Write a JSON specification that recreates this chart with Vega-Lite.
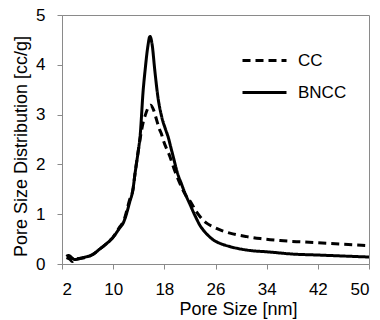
{
  "$schema": "https://vega.github.io/schema/vega-lite/v6.json",
  "width": 307,
  "height": 249,
  "autosize": "none",
  "padding": {"left": 62, "top": 15, "right": 11, "bottom": 56},
  "background": "white",
  "config": {
    "font": "Liberation Sans",
    "view": {"stroke": "#8a8a8a", "strokeWidth": 1},
    "axis": {"grid": false, "domainColor": "#8a8a8a", "tickColor": "#8a8a8a", "labelColor": "black", "titleColor": "black", "labelFont": "Liberation Sans", "titleFont": "Liberation Sans", "labelFontSize": 17, "titleFontSize": 18, "titleFontWeight": "normal"}
  },
  "data": {
    "values": [
      {"s": "BNCC", "x": 2.7, "y": 0.15},
      {"s": "BNCC", "x": 3.0, "y": 0.17},
      {"s": "BNCC", "x": 4.0, "y": 0.09},
      {"s": "BNCC", "x": 5.3, "y": 0.13},
      {"s": "BNCC", "x": 6.8, "y": 0.19},
      {"s": "BNCC", "x": 7.9, "y": 0.3},
      {"s": "BNCC", "x": 8.5, "y": 0.36},
      {"s": "BNCC", "x": 9.5, "y": 0.47},
      {"s": "BNCC", "x": 10.0, "y": 0.54},
      {"s": "BNCC", "x": 11.0, "y": 0.72},
      {"s": "BNCC", "x": 11.6, "y": 0.83},
      {"s": "BNCC", "x": 12.6, "y": 1.25},
      {"s": "BNCC", "x": 13.1, "y": 1.5},
      {"s": "BNCC", "x": 13.4, "y": 1.8},
      {"s": "BNCC", "x": 13.9, "y": 2.25},
      {"s": "BNCC", "x": 14.2, "y": 2.55},
      {"s": "BNCC", "x": 14.7, "y": 3.5},
      {"s": "BNCC", "x": 15.0, "y": 3.9},
      {"s": "BNCC", "x": 15.4, "y": 4.35},
      {"s": "BNCC", "x": 15.75, "y": 4.57},
      {"s": "BNCC", "x": 16.1, "y": 4.4},
      {"s": "BNCC", "x": 16.5, "y": 3.9},
      {"s": "BNCC", "x": 17.0, "y": 3.35},
      {"s": "BNCC", "x": 17.6, "y": 2.95},
      {"s": "BNCC", "x": 18.2, "y": 2.7},
      {"s": "BNCC", "x": 18.6, "y": 2.55},
      {"s": "BNCC", "x": 19.0, "y": 2.35},
      {"s": "BNCC", "x": 19.4, "y": 2.15},
      {"s": "BNCC", "x": 20.0, "y": 1.85},
      {"s": "BNCC", "x": 20.7, "y": 1.6},
      {"s": "BNCC", "x": 21.3, "y": 1.4},
      {"s": "BNCC", "x": 22.0, "y": 1.2},
      {"s": "BNCC", "x": 22.8, "y": 0.97},
      {"s": "BNCC", "x": 23.6, "y": 0.77},
      {"s": "BNCC", "x": 24.5, "y": 0.62},
      {"s": "BNCC", "x": 25.6, "y": 0.49},
      {"s": "BNCC", "x": 27.0, "y": 0.4},
      {"s": "BNCC", "x": 28.25, "y": 0.35},
      {"s": "BNCC", "x": 30.9, "y": 0.28},
      {"s": "BNCC", "x": 34.5, "y": 0.24},
      {"s": "BNCC", "x": 38.0, "y": 0.2},
      {"s": "BNCC", "x": 42.0, "y": 0.18},
      {"s": "BNCC", "x": 46.0, "y": 0.16},
      {"s": "BNCC", "x": 50.0, "y": 0.14},
      {"s": "CC", "x": 2.7, "y": 0.13},
      {"s": "CC", "x": 3.2, "y": 0.1},
      {"s": "CC", "x": 3.6, "y": 0.05},
      {"s": "CC", "x": 4.0, "y": 0.1},
      {"s": "CC", "x": 5.3, "y": 0.12},
      {"s": "CC", "x": 6.8, "y": 0.19},
      {"s": "CC", "x": 7.9, "y": 0.3},
      {"s": "CC", "x": 8.5, "y": 0.36},
      {"s": "CC", "x": 9.5, "y": 0.47},
      {"s": "CC", "x": 10.0, "y": 0.54},
      {"s": "CC", "x": 11.0, "y": 0.74},
      {"s": "CC", "x": 11.6, "y": 0.85},
      {"s": "CC", "x": 12.6, "y": 1.3},
      {"s": "CC", "x": 13.1, "y": 1.5},
      {"s": "CC", "x": 13.4, "y": 1.8},
      {"s": "CC", "x": 13.9, "y": 2.25},
      {"s": "CC", "x": 14.2, "y": 2.5},
      {"s": "CC", "x": 14.7, "y": 2.85},
      {"s": "CC", "x": 15.0, "y": 2.98},
      {"s": "CC", "x": 15.4, "y": 3.12},
      {"s": "CC", "x": 15.86, "y": 3.19},
      {"s": "CC", "x": 16.3, "y": 3.1},
      {"s": "CC", "x": 16.8, "y": 2.89},
      {"s": "CC", "x": 17.2, "y": 2.72},
      {"s": "CC", "x": 17.6, "y": 2.59},
      {"s": "CC", "x": 17.8, "y": 2.5},
      {"s": "CC", "x": 18.9, "y": 2.15},
      {"s": "CC", "x": 19.5, "y": 1.92},
      {"s": "CC", "x": 20.2, "y": 1.69},
      {"s": "CC", "x": 21.5, "y": 1.35},
      {"s": "CC", "x": 22.0, "y": 1.27},
      {"s": "CC", "x": 23.0, "y": 1.05},
      {"s": "CC", "x": 23.6, "y": 0.95},
      {"s": "CC", "x": 24.5, "y": 0.83},
      {"s": "CC", "x": 25.6, "y": 0.75},
      {"s": "CC", "x": 27.0, "y": 0.67},
      {"s": "CC", "x": 28.25, "y": 0.62},
      {"s": "CC", "x": 30.9, "y": 0.55},
      {"s": "CC", "x": 33.0, "y": 0.51},
      {"s": "CC", "x": 36.1, "y": 0.47},
      {"s": "CC", "x": 40.0, "y": 0.44},
      {"s": "CC", "x": 44.0, "y": 0.41},
      {"s": "CC", "x": 50.0, "y": 0.37}
    ]
  },
  "mark": {"type": "line", "color": "black", "strokeWidth": 3, "strokeCap": "butt", "interpolate": "monotone"},
  "encoding": {
    "x": {
      "field": "x", "type": "quantitative",
      "scale": {"domain": [2, 50], "nice": false, "zero": false},
      "axis": {"values": [2, 10, 18, 26, 34, 42, 50], "title": "Pore Size [nm]", "tickSize": 5, "labelPadding": 12, "titleX": 176, "titleY": 50, "titleBaseline": "alphabetic", "titleAnchor": "middle"}
    },
    "y": {
      "field": "y", "type": "quantitative",
      "scale": {"domain": [0, 5], "nice": false},
      "axis": {"values": [0, 1, 2, 3, 4, 5], "title": "Pore Size Distribution [cc/g]", "tickSize": 5, "labelPadding": 12, "titleAngle": -90, "titleX": -36, "titleY": 131, "titleBaseline": "alphabetic", "titleAlign": "center"}
    },
    "strokeDash": {
      "field": "s", "type": "nominal",
      "scale": {"domain": ["CC", "BNCC"], "range": [[8, 5], [1, 0]]},
      "legend": {"title": null, "orient": "none", "legendX": 179, "legendY": 22, "symbolType": "stroke", "symbolSize": 1936, "symbolStrokeWidth": 3, "symbolStrokeColor": "black", "labelFontSize": 17, "labelFont": "Liberation Sans", "labelColor": "black", "labelOffset": 10, "rowPadding": -2}
    }
  }
}
